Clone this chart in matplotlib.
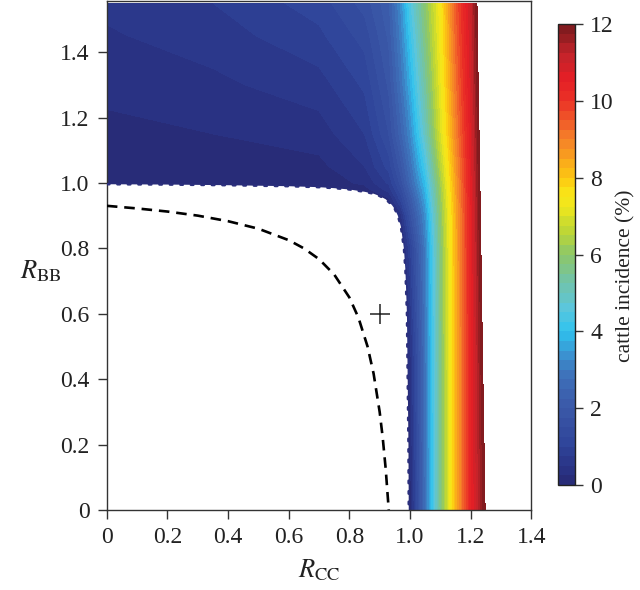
import numpy as np
import matplotlib
matplotlib.use("Agg")
import matplotlib.pyplot as plt
from matplotlib.colors import LinearSegmentedColormap, Normalize
from matplotlib.ticker import FuncFormatter

plt.rcParams['font.family'] = ['Liberation Serif', 'DejaVu Serif']
plt.rcParams['mathtext.fontset'] = 'stix'

# ---------------- data ----------------
# grid of R_CC (columns) and R_BB (rows)
r_cc = [0, 0.35, 0.7, 0.85, 0.93, 0.97, 1.0, 1.05, 1.1, 1.15, 1.2, 1.25, 1.3, 1.4]
r_bb = [0, 0.5, 0.8, 0.9, 0.95, 0.98, 1.0, 1.05, 1.15, 1.3, 1.45, 1.55]

# cattle incidence (%) at each grid node (rows follow r_bb)
inc_00 = [0, 0, 0, 0, 0, 0, 0.0, 2.75, 5.55, 8.2, 10.35, 12.07, 13.4, 15.8]
inc_05 = [0, 0, 0, 0, 0, 0, 0.35, 2.85, 5.6, 8.2, 10.35, 12.47, 13.6, 15.9]
inc_08 = [0, 0, 0, 0, 0, 0, 0.9, 3.0, 5.7, 8.25, 10.4, 12.75, 13.9, 16.0]
inc_09 = [0, 0, 0, 0, 0, 0.4, 1.6, 3.3, 5.85, 8.3, 10.4, 12.9, 14.0, 16.1]
inc_095 = [0, 0, 0, 0, 0.2, 1.1, 2.0, 3.6, 6.0, 8.4, 10.45, 12.91, 14.1, 16.2]
inc_098 = [0, 0, 0, 0.15, 0.6, 1.4, 2.3, 3.8, 6.1, 8.45, 10.5, 12.92, 14.1, 16.3]
inc_10 = [0.01, 0.03, 0.1, 0.3, 0.8, 1.6, 2.5, 3.95, 6.2, 8.5, 10.5, 12.96, 14.2, 16.4]
inc_105 = [0.06, 0.1, 0.18, 0.5, 1.1, 1.9, 2.75, 4.3, 6.45, 8.6, 10.55, 12.99, 14.3, 16.7]
inc_115 = [0.17, 0.25, 0.375, 0.75, 1.5, 2.4, 3.2, 4.9, 6.9, 8.85, 10.65, 13.06, 14.4, 17.2]
inc_13 = [0.33, 0.44, 0.64, 1.05, 1.8, 2.8, 3.7, 5.35, 7.15, 9.1, 10.8, 13.2, 14.6, 17.6]
inc_145 = [0.47, 0.62, 0.94, 1.35, 2.05, 3.1, 4.1, 5.7, 7.35, 9.3, 10.9, 13.29, 14.8, 17.8]
inc_155 = [0.56, 0.75, 1.12, 1.6, 2.2, 3.3, 4.4, 5.9, 7.4, 9.4, 11.0, 13.38, 15.0, 18.0]

# threshold boundary (dotted curve) below which there is no infection
thr_cc = [0, 0.2, 0.4, 0.6, 0.7, 0.75, 0.8, 0.85, 0.88, 0.9, 0.92, 0.94, 0.95,
          0.96, 0.97, 0.98, 0.985, 0.99, 0.995, 0.996]
thr_bb = [0.996, 0.995, 0.993, 0.99, 0.987, 0.984, 0.98, 0.973, 0.967, 0.96, 0.95,
          0.933, 0.92, 0.90, 0.867, 0.80, 0.733, 0.60, 0.20, 0.0]

# dashed curve
dash_cc = [0, 0.1, 0.2, 0.3, 0.4, 0.5, 0.6, 0.65, 0.7, 0.75, 0.8, 0.83, 0.86,
           0.88, 0.9, 0.91, 0.92, 0.93]
dash_bb = [0.93, 0.922, 0.9125, 0.90, 0.883, 0.86, 0.825, 0.80, 0.767, 0.72, 0.65,
           0.588, 0.50, 0.417, 0.30, 0.222, 0.125, 0.0]

# marked point
pt_cc = [0.9]
pt_bb = [0.6]

# ticks
cbar_ticks = [0, 2, 4, 6, 8, 10, 12]
x_ticks = [0, 0.2, 0.4, 0.6, 0.8, 1.0, 1.2, 1.4]
y_ticks = [0, 0.2, 0.4, 0.6, 0.8, 1.0, 1.2, 1.4]

# ---------------- figure ----------------
Z = np.array([inc_00, inc_05, inc_08, inc_09, inc_095, inc_098, inc_10,
              inc_105, inc_115, inc_13, inc_145, inc_155])

anchors = [
    (0.0, '#272a75'), (0.5, '#2a3587'), (1.0, '#2f4399'), (2.0, '#3a58a8'),
    (2.8, '#3e6fb8'), (3.4, '#3b92d0'), (4.0, '#2ec4f0'), (4.6, '#5cc6dc'),
    (5.3, '#72c4a8'), (6.0, '#8cc76a'), (6.6, '#bcd636'), (7.3, '#f1e81c'),
    (7.7, '#fbe016'), (8.0, '#fcc812'), (8.5, '#f9a51c'), (9.0, '#f58229'),
    (9.5, '#f05b29'), (10.0, '#eb3226'), (10.6, '#e41f26'), (11.2, '#c4232a'),
    (12.0, '#7a1a1d'),
]
cmap = LinearSegmentedColormap.from_list('inc', [(v / 12.0, c) for v, c in anchors], N=256)

fig = plt.figure(figsize=(6.4, 5.9), dpi=100)
ax = fig.add_axes([0.167, 0.1356, 0.663, 0.862])
cax = fig.add_axes([0.872, 0.178, 0.0266, 0.781])

levels = np.linspace(0, 12, 49)
cf = ax.contourf(r_cc, r_bb, Z, levels=levels, cmap=cmap, norm=Normalize(0, 12))

# no-infection region
poly_x = [0] + thr_cc
poly_y = [0] + thr_bb
ax.fill(poly_x, poly_y, color='white', lw=0, zorder=2)
ax.plot(thr_cc, thr_bb, color='#2b2f7d', lw=1.8, linestyle=(0, (1.0, 3.2)),
        dash_capstyle='round', zorder=3)

ax.plot(dash_cc, dash_bb, color='black', lw=1.9, linestyle=(0, (4, 2.6)), zorder=3)
ax.plot(pt_cc, pt_bb, marker='+', ms=15, mew=1.1, color='#222222', ls='none', zorder=4)

ax.set_xlim(0, 1.4)
ax.set_ylim(0, 1.555)
ax.set_xticks(x_ticks)
ax.set_yticks(y_ticks)
fmt = FuncFormatter(lambda v, p: '0' if abs(v) < 1e-9 else f'{v:.1f}')
ax.xaxis.set_major_formatter(fmt)
ax.yaxis.set_major_formatter(fmt)
ax.tick_params(direction='out', length=6.5, width=1, labelsize=17, colors='#333333',
               labelcolor='#222222', pad=6)
for s in ax.spines.values():
    s.set_color('#333333')
    s.set_linewidth(1.0)

ax.set_xlabel(r'$R_{\mathrm{CC}}$', fontsize=19, color='#222222', va='center')
ax.xaxis.set_label_coords(0.5, -0.118)
ax.set_ylabel(r'$R_{\mathrm{BB}}$', fontsize=19, rotation=0, color='#222222',
              ha='center', va='center')
ax.yaxis.set_label_coords(-0.155, 0.47)

cb = fig.colorbar(cf, cax=cax, ticks=cbar_ticks)
cb.outline.set_linewidth(1.0)
cb.outline.set_edgecolor('#222222')
cax.tick_params(direction='out', length=6, width=1, labelsize=17, colors='#333333',
                labelcolor='#222222', pad=5)
cb.set_label('cattle incidence (%)', fontsize=15.5, color='#222222',
             va='center', ha='center')
cax.yaxis.set_label_coords(4.0, 0.455)

fig.savefig('out.png', dpi=100)
